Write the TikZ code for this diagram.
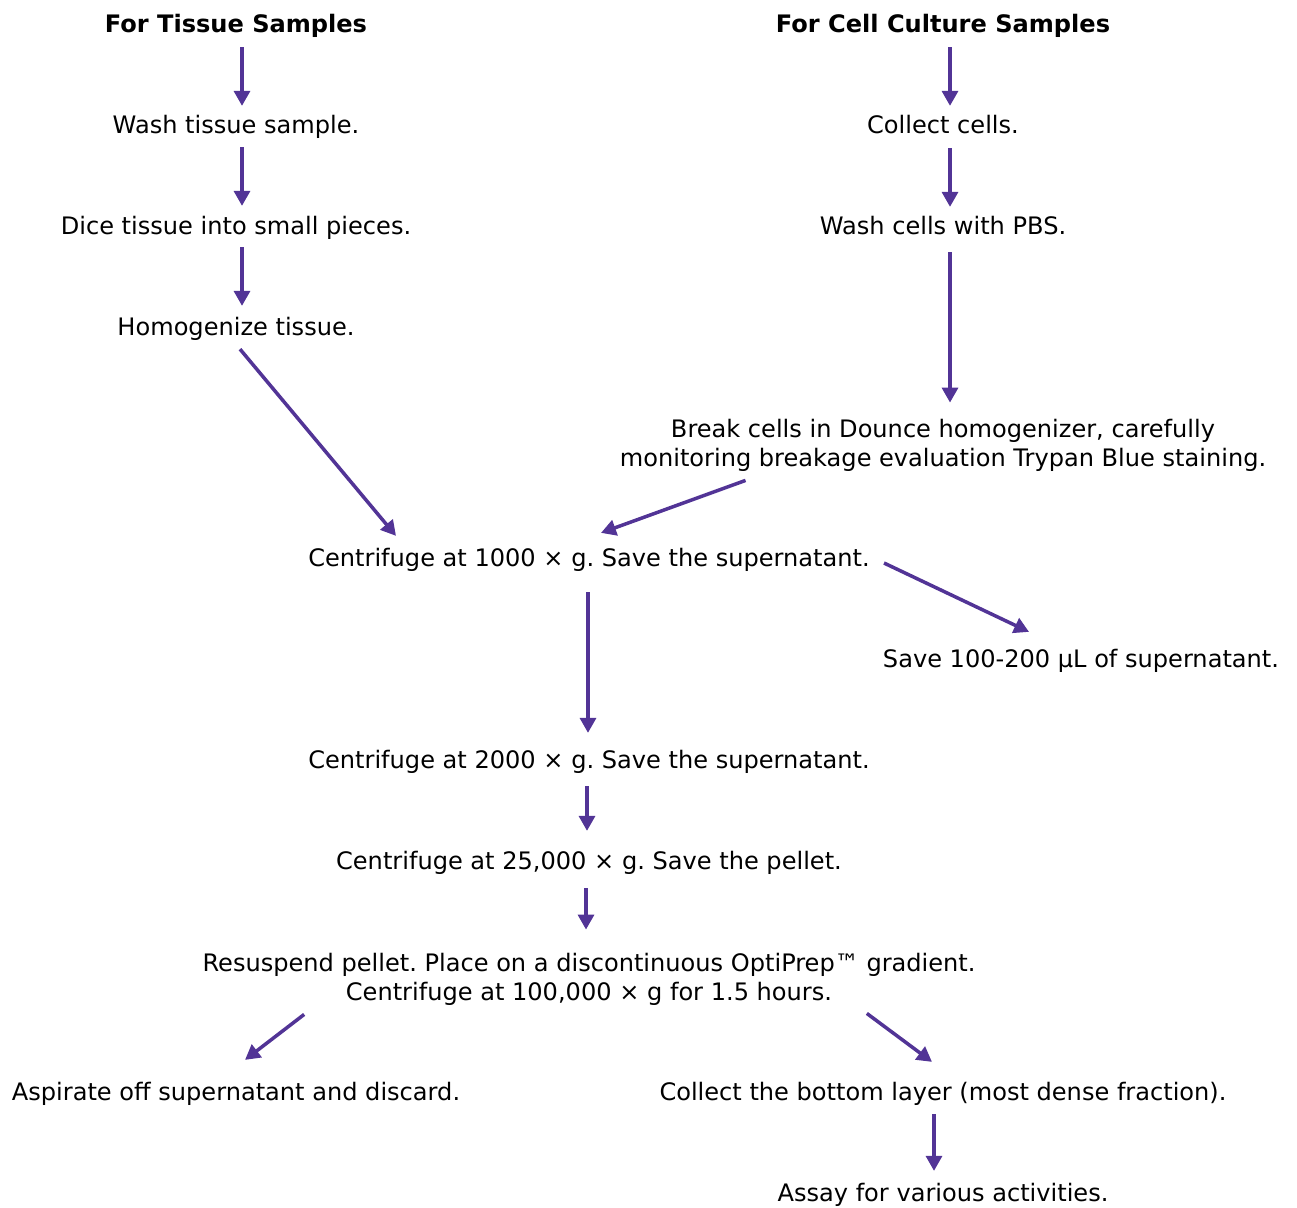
\documentclass[tikz,border=0pt]{standalone}
\usepackage{fontspec}
\setmainfont{DejaVu Sans}
\usetikzlibrary{arrows.meta,calc}
\definecolor{flowpurple}{RGB}{82,52,150}
\frenchspacing

\begin{document}
\begin{tikzpicture}
  [x=0.02cm,y=-0.02cm,
   every node/.style={font=\fontsize{13.7}{16.4}\selectfont, inner sep=0pt,
     text height=0.92em, text depth=0.08em},
   twoline/.style={align=center, text height=, text depth=},
   head/.style={font=\fontsize{13.7}{16.4}\selectfont\bfseries},
   flow/.style={draw=flowpurple, line width=2pt, -{Triangle[length=8.5pt,width=9pt]}}]
  \useasboundingbox (0,0) rectangle (1297,1207);

  % tissue branch
  \node[head] (TH) at (236,25) {For Tissue Samples};
  \node (TW) at (236,126) {Wash tissue sample.};
  \node (TD) at (236,227) {Dice tissue into small pieces.};
  \node (TM) at (236,328) {Homogenize tissue.};

  % cell culture branch
  \node[head] (CH) at (943,25) {For Cell Culture Samples};
  \node (CC) at (943,126) {Collect cells.};
  \node (CW) at (943,227) {Wash cells with PBS.};
  \node[twoline] (BR) at (943,445) {Break cells in Dounce homogenizer, carefully\\monitoring breakage evaluation Trypan Blue staining.};

  % common steps
  \node (C1) at (589,559) {Centrifuge at 1000 × g. Save the supernatant.};
  \node (SV) at (1081,660) {Save 100-200 µL of supernatant.};
  \node (C2) at (589,761) {Centrifuge at 2000 × g. Save the supernatant.};
  \node (C3) at (589,862) {Centrifuge at 25,000 × g. Save the pellet.};
  \node[twoline] (RS) at (589,979) {Resuspend pellet. Place on a discontinuous OptiPrep™ gradient.\\Centrifuge at 100,000 × g for 1.5 hours.};
  \node (AS) at (236,1093) {Aspirate off supernatant and discard.};
  \node (CB) at (943,1093) {Collect the bottom layer (most dense fraction).};
  \node (AY) at (943,1194) {Assay for various activities.};

  \foreach \from/\to/\dx/\sa/\sb in {TH/TW/6/13/-11, TW/TD/6/12/-12, TD/TM/6/11/-13,
                                     CH/CC/7/13/-11, CC/CW/7/13/-11, CW/BR/7/16/-16,
                                     C1/C2/-1/24/-19, C2/C3/-2/16/-22, C3/RS/-3/17/-23,
                                     CB/AY/-9/12/-14}
    \draw[flow] ($(\from.south)+(\dx,\sa)$) -- ($(\to.north)+(\dx,\sb)$);

  \draw[flow] ($(TM.south)+(4,12)$) -- ($(C1.north west)+(88,-14)$);
  \draw[flow] ($(BR.south west)+(126,9)$) -- ($(C1.north)+(12,-17)$);
  \draw[flow] ($(C1.east)+(14,4)$) -- ($(SV.north)+(-52,-19)$);
  \draw[flow] ($(RS.south west)+(102,9)$) -- ($(AS.north)+(9,-24)$);
  \draw[flow] ($(RS.south east)+(-109,8)$) -- ($(CB.north)+(-11,-22)$);
\end{tikzpicture}
\end{document}
